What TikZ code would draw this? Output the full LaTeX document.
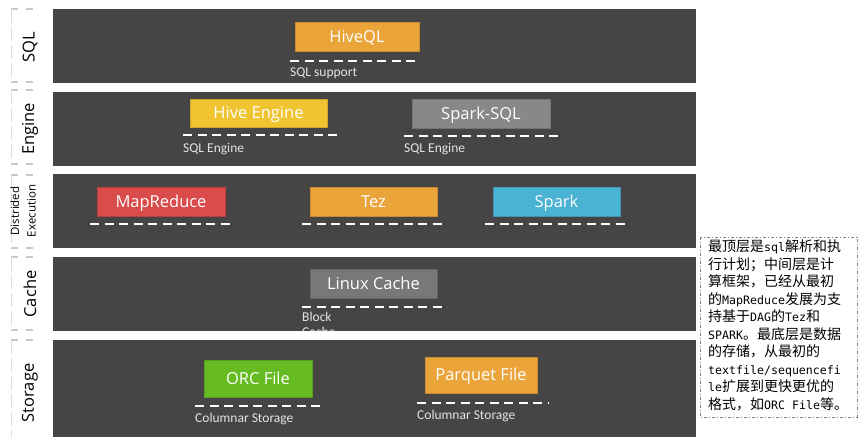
\documentclass[tikz,border=0pt]{standalone}
\usepackage{fontspec}
\setmainfont{Carlito}
\newfontfamily\blkfont{Open Sans}
\newfontfamily\cjk{Noto Sans CJK SC}
\newfontfamily\notemono{DejaVu Sans Mono}
\usepackage{tikz}
\definecolor{HiveStackBand}{RGB}{70,68,69}
\definecolor{HiveStackCap}{RGB}{228,228,228}
\definecolor{HiveStackCell}{RGB}{200,200,200}
\definecolor{HiveStackColor1}{RGB}{235,164,58}
\definecolor{HiveStackColor2}{RGB}{240,196,48}
\definecolor{HiveStackColor3}{RGB}{136,136,136}
\definecolor{HiveStackColor4}{RGB}{218,75,75}
\definecolor{HiveStackColor5}{RGB}{74,178,210}
\definecolor{HiveStackColor6}{RGB}{120,120,120}
\definecolor{HiveStackColor7}{RGB}{102,187,34}
\newcommand{\notelat}[1]{{\notemono\fontsize{11.6}{17.5}\selectfont #1}}

\begin{document}
\begin{tikzpicture}[x=1pt,y=-1pt,
blk/.style n args={3}{fill=#1,draw=#1!85!black,minimum width=#2pt,minimum height=#3pt,inner sep=0pt,text height=11pt,text depth=0pt,text=white,font=\blkfont\fontsize{16.5}{18}\selectfont},
captxt/.style={anchor=west,inner sep=0pt,text=HiveStackCap,font=\fontsize{13.5}{14}\selectfont},
rule/.style={white,line width=2pt,dash pattern=on 9pt off 5.5pt},
cellrule/.style={HiveStackCell,line width=1.5pt,dash pattern=on 7pt off 8pt},
celledge/.style={HiveStackCell!60,line width=0.8pt,dash pattern=on 14pt off 4pt},
layertxt/.style={rotate=90,inner sep=0pt,font=\blkfont\fontsize{16.5}{18}\selectfont}]
\useasboundingbox (0,0) rectangle (860,442);
\foreach \t/\b in %
{9/83,92/166,174/248,257/331,340/437} {
   \fill[HiveStackBand] (53,\t) rectangle (696,\b);
}
\foreach \t/\b in %
{9/82,90/164,175/248,257/330} {
   \draw[cellrule] (11,\t) -- (40,\t) (11,\b) -- (40,\b);
   \draw[celledge] (11,\t) -- (11,\b);
}
\draw[cellrule] (11,340) -- (40,340);
\draw[celledge] (11,340) -- (11,437);
\foreach \y/\1/\n in %
{47/SQL/l0,129/Engine/l1,294/Cache/l3,393/Storage/l4} {
   \node[layertxt] (\n) at (30,\y) {\1};
}
   \node[layertxt,align=center,font=\blkfont\fontsize{11.5}{16.5}\selectfont] (l2) at (23,211) {Distrided\\Execution};

   \node[blk={HiveStackColor1}{124}{29}] (n0) at (357,36.5) {HiveQL};
   \draw[rule] (290,61) -- (420,61);
   \node[captxt] (t0) at (290,73) {SQL support};

   \node[blk={HiveStackColor2}{137}{28}] (n1) at (258.5,113) {Hive Engine};
   \draw[rule] (183,135) -- (337,135);
   \node[captxt] (t1) at (183,149) {SQL Engine};
   \node[blk={HiveStackColor3}{138}{29}] (n2) at (481,113.5) {Spark-SQL};
   \draw[rule] (404,136) -- (560,136);
   \node[captxt] (t2) at (404,149) {SQL Engine};

   \node[blk={HiveStackColor4}{128}{29}] (n3) at (161,201.5) {MapReduce};
   \draw[rule] (90,224) -- (235,224);
   \node[blk={HiveStackColor1}{127}{29}] (n4) at (373.5,201.5) {Tez};
   \draw[rule] (302,224) -- (445,224);
   \node[blk={HiveStackColor5}{127}{29}] (n5) at (556.5,201.5) {Spark};
   \draw[rule] (485,224) -- (630,224);

   \node[blk={HiveStackColor6}{127}{29}] (n6) at (373.5,283.5) {Linux Cache};
   \draw[rule] (302,307) -- (447,307);
\begin{scope}
   \clip (53,257) rectangle (696,331);
   \node[captxt,anchor=north west,align=left,font=\fontsize{13.5}{14.5}\selectfont] (t6) at (302,312) {Block\\Cache};
\end{scope}

   \node[blk={HiveStackColor7}{108}{37}] (n7) at (258,378.5) {ORC File};
   \draw[rule] (195,406) -- (323,406);
   \node[captxt] (t7) at (195,419) {Columnar Storage};
   \node[blk={HiveStackColor1}{112}{36}] (n8) at (481,375) {Parquet File};
   \draw[rule] (417,403) -- (548,403);
   \node[captxt] (t8) at (417,416) {Columnar Storage};

   \draw[gray,line width=0.8pt,dash pattern=on 3pt off 2pt on 1pt off 2pt] (700,237) rectangle (857,417);
   \node[anchor=north west,inner sep=0pt,align=left,font=\cjk\fontsize{14}{17.5}\selectfont] (note) at (708,240) {%
最顶层是\notelat{sql}解析和执\\
行计划；中间层是计\\
算框架，已经从最初\\
的\notelat{MapReduce}发展为支\\
持基于\notelat{DAG}的\notelat{Tez}和\\
\notelat{SPARK}。最底层是数据\\
的存储，从最初的\\
\notelat{textfile/sequencefi}\\
\notelat{le}扩展到更快更优的\\
格式，如\notelat{ORC File}等。};
\end{tikzpicture}
\end{document}
